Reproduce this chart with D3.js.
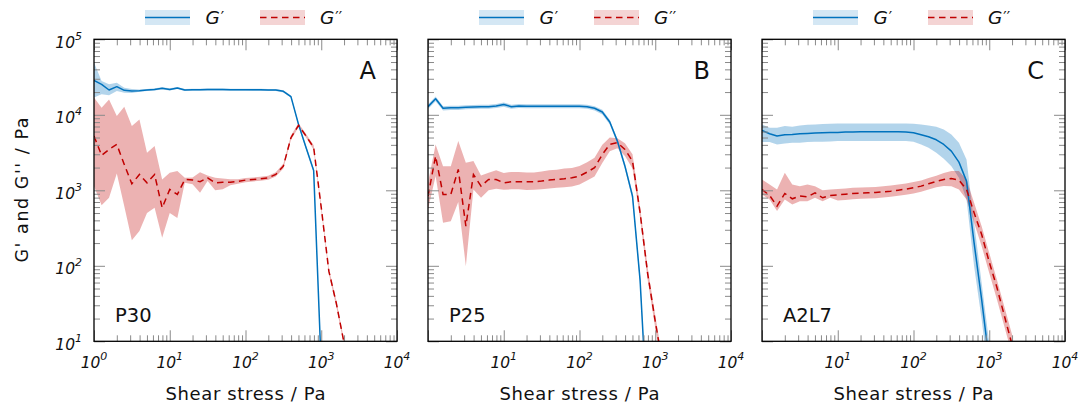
<!DOCTYPE html>
<html><head><meta charset="utf-8">
<script src="https://cdn.jsdelivr.net/npm/d3@7"></script>
<style>body{margin:0;background:#fff}svg{display:block}</style>
</head><body><svg id="c" width="1084" height="410"></svg>
<script>
// Shear stress (Pa), shared by all series
const stress = [1, 1.26, 1.58, 2, 2.51, 3.16, 3.98, 5.01, 6.31, 7.94, 10, 12.6, 15.8, 20, 25.1, 31.6, 39.8, 50.1, 63.1, 79.4, 100, 126, 158, 200, 251, 316, 398, 501, 631, 794, 1000, 1260, 1580, 2000];

const panelLetters = ["A", "B", "C"];
const sampleNames = ["P30", "P25", "A2L7"];
const xTickValues = [1, 10, 100, 1000, 10000];
const yTickValues = [10, 100, 1000, 10000, 100000];
const xTickExponents = ["0", "1", "2", "3", "4"];
const yTickExponents = ["1", "2", "3", "4", "5"];
const xMinorTicks = [2,3,4,5,6,7,8,9,20,30,40,50,60,70,80,90,200,300,400,500,600,700,800,900,2000,3000,4000,5000,6000,7000,8000,9000];
const yMinorTicks = [20,30,40,50,60,70,80,90,200,300,400,500,600,700,800,900,2000,3000,4000,5000,6000,7000,8000,9000,20000,30000,40000,50000,60000,70000,80000,90000];

// Panel A (P30)
const aGp   = [28600, 25300, 21300, 23600, 21100, 20700, 20900, 21300, 21700, 22400, 21700, 22600, 21300, 21500, 21500, 21600, 21600, 21600, 21500, 21500, 21500, 21400, 21400, 21300, 21300, 20500, 17400, 7470, 3660, 1830, 4.5];
const aGpHi = [49100, 28000, 25300, 26600, 22800, 21900, 21600, 22000, 22400, 23100, 22400, 23300, 22000, 22200, 22200, 22300, 22300, 22300, 22200, 22200, 22200, 22100, 22100, 22000, 22000, 21200, 18000, 7900, 3900, 1950, 5.0];
const aGpLo = [16900, 18700, 18100, 20700, 19600, 19400, 20200, 20600, 21000, 21700, 21000, 21900, 20600, 20800, 20800, 20900, 20900, 20900, 20800, 20800, 20800, 20700, 20700, 20600, 20600, 19800, 16800, 7050, 3450, 1720, 4.0];
const aGpp   = [5230, 2900, 3480, 4050, 2200, 1220, 1620, 1256, 1620, 586, 1025, 880, 1390, 1370, 1300, 1466, 1256, 1282, 1282, 1310, 1365, 1390, 1420, 1465, 1620, 2090, 4970, 7250, 5230, 3700, 590, 85, 32, 9.5];
const aGppHi = [16900, 12400, 16000, 9620, 12800, 7100, 8690, 3140, 3850, 1390, 1710, 1800, 1470, 1480, 1740, 1575, 1470, 1430, 1400, 1400, 1450, 1480, 1510, 1560, 1730, 2250, 5300, 7700, 5550, 3950, 640, 92, 35, 10.3];
const aGppLo = [1135, 635, 795, 1670, 617, 218, 288, 500, 586, 235, 500, 431, 1256, 1200, 927, 1325, 1000, 1030, 1170, 1220, 1280, 1310, 1340, 1380, 1520, 1950, 4650, 6850, 4950, 3450, 540, 78, 29, 8.8];

// Panel B (P25)
const bGp   = [12800, 16300, 12200, 12400, 12400, 12600, 12700, 12800, 12800, 13100, 13700, 12800, 13100, 13000, 13000, 13000, 13000, 13000, 13000, 13000, 13000, 12800, 12200, 10900, 8020, 4490, 2090, 838, 64, 0.9];
const bGpHi = [13700, 17500, 13000, 13200, 13200, 13400, 13500, 13600, 13600, 13900, 14600, 13600, 13900, 13800, 13800, 13800, 13800, 13800, 13800, 13800, 13800, 13600, 13000, 11700, 8600, 4850, 2300, 930, 75, 1.0];
const bGpLo = [11900, 15100, 11400, 11600, 11600, 11800, 11900, 12000, 12000, 12300, 12800, 12000, 12300, 12200, 12200, 12200, 12200, 12200, 12200, 12200, 12200, 12000, 11400, 10100, 7450, 4150, 1900, 750, 55, 0.8];
const bGpp   = [838, 2840, 881, 881, 1890, 335, 1620, 1135, 1392, 1392, 1257, 1296, 1296, 1296, 1296, 1324, 1365, 1392, 1422, 1466, 1543, 1743, 1988, 2985, 4055, 4270, 3480, 2440, 504, 79, 18.4, 4.7];
const bGppHi = [1257, 4055, 2090, 2090, 4490, 2320, 2440, 1575, 1706, 1850, 1700, 1750, 1750, 1720, 1720, 1780, 1840, 1870, 1950, 1970, 2100, 2350, 2700, 4000, 5000, 4900, 4200, 3000, 600, 95, 22, 5.5];
const bGppLo = [557, 1543, 371, 390, 700, 99, 1026, 796, 1005, 1050, 1020, 1030, 1030, 1010, 1020, 1030, 1060, 1080, 1100, 1120, 1190, 1350, 1520, 2300, 3300, 3600, 2850, 1950, 420, 65, 15, 4];

// Panel C (A2L7)
const cGp   = [6210, 5610, 5230, 5440, 5500, 5610, 5670, 5730, 5790, 5850, 5850, 5910, 5910, 5970, 5970, 5970, 5970, 5970, 5970, 5910, 5790, 5440, 5120, 4670, 4050, 3300, 2360, 1323, 201, 35.6, 5.4];
const cGpHi = [7460, 6740, 6740, 7100, 6950, 7240, 7390, 7460, 7540, 7620, 7690, 7690, 7690, 7690, 7690, 7690, 7690, 7690, 7690, 7690, 7620, 7460, 7240, 6950, 6410, 5500, 4260, 2560, 371, 59, 9.5];
const cGpLo = [4350, 4350, 4050, 4180, 4260, 4260, 4350, 4400, 4400, 4440, 4490, 4490, 4490, 4490, 4490, 4490, 4490, 4490, 4490, 4490, 4400, 4050, 3660, 3140, 2620, 2090, 1465, 755, 99, 19.4, 2.8];
const cGpp   = [1026, 855, 617, 908, 771, 838, 821, 927, 796, 855, 871, 889, 908, 917, 927, 936, 955, 975, 1005, 1037, 1080, 1135, 1220, 1310, 1392, 1437, 1365, 1026, 504, 260, 112, 52, 22, 9.0];
const cGppHi = [1392, 1194, 1026, 1706, 1194, 1135, 1194, 1135, 1005, 1026, 1040, 1060, 1080, 1090, 1100, 1110, 1135, 1160, 1195, 1235, 1285, 1350, 1450, 1560, 1700, 1795, 1795, 1392, 683, 335, 148, 66, 29, 12.3];
const cGppLo = [881, 755, 530, 755, 649, 718, 718, 794, 718, 794, 730, 745, 760, 770, 780, 785, 800, 820, 845, 870, 905, 955, 1025, 1100, 1140, 1135, 1026, 755, 371, 182, 80, 36, 15.8, 6.65];

const legendBase = ["G", "G"];
const legendPrimes = ["\u2032", "\u2032\u2032"];

const BLUE = "rgb(0,114,189)", RED = "rgb(192,0,0)";
const FONT = "DejaVu Sans, sans-serif";
const W = 303, H = 302, TOP = 39.3;
const panelLefts = [94, 428, 762];

const panels = [
  {gp: aGp, gpLo: aGpLo, gpHi: aGpHi, gpp: aGpp, gppLo: aGppLo, gppHi: aGppHi},
  {gp: bGp, gpLo: bGpLo, gpHi: bGpHi, gpp: bGpp, gppLo: bGppLo, gppHi: bGppHi},
  {gp: cGp, gpLo: cGpLo, gpHi: cGpHi, gpp: cGpp, gppLo: cGppLo, gppHi: cGppHi}
];

const svg = d3.select("#c");

panels.forEach((p, pi) => {
  const left = panelLefts[pi];
  const g = svg.append("g").attr("transform", `translate(${left},${TOP})`);
  const x = d3.scaleLog().domain([1, 1e4]).range([0, W]);
  const y = d3.scaleLog().domain([10, 1e5]).range([H, 0]);

  const cid = "clip" + pi;
  g.append("clipPath").attr("id", cid).append("rect").attr("width", W).attr("height", H);
  const plot = g.append("g").attr("clip-path", `url(#${cid})`);

  const mk = (v, lo, hi) => v.map((d, i) => ({s: stress[i], v: d, lo: lo[i], hi: hi[i]}));
  const d1 = mk(p.gp, p.gpLo, p.gpHi);
  const d2 = mk(p.gpp, p.gppLo, p.gppHi);
  const area = d3.area().x(d => x(d.s)).y0(d => y(d.lo)).y1(d => y(d.hi));
  const line = d3.line().x(d => x(d.s)).y(d => y(d.v));

  plot.append("path").datum(d1).attr("d", area).attr("fill", BLUE).attr("fill-opacity", 0.3);
  plot.append("path").datum(d2).attr("d", area).attr("fill", RED).attr("fill-opacity", 0.3);
  plot.append("path").datum(d1).attr("d", line).attr("fill", "none")
      .attr("stroke", BLUE).attr("stroke-width", 1.5).attr("stroke-linejoin", "round");
  plot.append("path").datum(d2).attr("d", line).attr("fill", "none")
      .attr("stroke", RED).attr("stroke-width", 1.5).attr("stroke-dasharray", "6.5,4.5");

  // ticks (inside, all four sides)
  const axisDefs = [
    [d3.axisBottom, x, `translate(0,${H})`, xMinorTicks, xTickValues],
    [d3.axisTop, x, `translate(0,0)`, xMinorTicks, xTickValues],
    [d3.axisLeft, y, `translate(0,0)`, yMinorTicks, yTickValues],
    [d3.axisRight, y, `translate(${W},0)`, yMinorTicks, yTickValues]
  ];
  axisDefs.forEach(([fn, sc, tr, minors, majors]) => {
    const gm = g.append("g").attr("transform", tr)
      .call(fn(sc).tickValues(minors).tickSize(-6).tickFormat(""));
    const gM = g.append("g").attr("transform", tr)
      .call(fn(sc).tickValues(majors).tickSize(-11).tickFormat(""));
    [gm, gM].forEach(a => {
      a.select(".domain").remove();
      a.selectAll(".tick line").attr("stroke", "#8a8a8a").attr("stroke-width", 1);
    });
  });

  g.append("rect").attr("width", W).attr("height", H).attr("fill", "none")
    .attr("stroke", "#000").attr("stroke-width", 1.3);

  // x tick labels
  xTickValues.forEach((v, i) => {
    if (i === 0 && pi !== 0) return;
    const t = g.append("text").attr("x", x(v)).attr("y", H + 27)
      .attr("text-anchor", "middle").attr("font-family", FONT)
      .attr("font-style", "italic").attr("font-size", 15.5).attr("fill", "#111");
    t.append("tspan").text("10");
    t.append("tspan").attr("dy", -8).attr("font-size", 11).text(xTickExponents[i]);
  });
  // y tick labels (first panel only)
  if (pi === 0) {
    yTickValues.forEach((v, i) => {
      const t = g.append("text").attr("x", -12).attr("y", y(v) + 8.5)
        .attr("text-anchor", "end").attr("font-family", FONT)
        .attr("font-style", "italic").attr("font-size", 15.5).attr("fill", "#111");
      t.append("tspan").text("10");
      t.append("tspan").attr("dy", -8).attr("font-size", 11).text(yTickExponents[i]);
    });
    svg.append("text").attr("transform", `translate(28,190) rotate(-90)`)
      .attr("text-anchor", "middle").attr("font-family", FONT).attr("font-size", 17.5)
      .attr("textLength", 145).attr("lengthAdjust", "spacing")
      .attr("fill", "#111").text("G' and G'' / Pa");
  }

  // x axis title
  g.append("text").attr("x", W / 2).attr("y", 400.5 - TOP).attr("text-anchor", "middle")
    .attr("font-family", FONT).attr("font-size", 18).attr("fill", "#111")
    .attr("textLength", 160).attr("lengthAdjust", "spacing")
    .text("Shear stress / Pa");

  // panel letter & sample name
  g.append("text").attr("x", W - 21).attr("y", 79 - TOP).attr("text-anchor", "end")
    .attr("font-family", FONT).attr("font-size", 24).attr("fill", "#111").text(panelLetters[pi]);
  g.append("text").attr("x", 21).attr("y", 322 - TOP)
    .attr("font-family", FONT).attr("font-size", 19.5).attr("fill", "#111").text(sampleNames[pi]);

  // legend
  const cx = left + W / 2;
  const leg = svg.append("g");
  [[BLUE, null, -100.5, -40], [RED, "6.5,4.5", 14.5, 74.5]].forEach(([col, dash, rx, tx], li) => {
    leg.append("rect").attr("x", cx + rx).attr("y", 10).attr("width", 45).attr("height", 15)
      .attr("fill", col).attr("fill-opacity", 0.17);
    leg.append("line").attr("x1", cx + rx).attr("x2", cx + rx + 45).attr("y1", 17.5).attr("y2", 17.5)
      .attr("stroke", col).attr("stroke-width", 1.5).attr("stroke-dasharray", dash);
    const t = leg.append("text").attr("x", cx + tx).attr("y", 24).attr("font-family", FONT)
      .attr("font-style", "italic").attr("font-size", 18.5).attr("fill", "#111");
    t.append("tspan").text(legendBase[li]);
    t.append("tspan").attr("dx", 1).attr("dy", -1).attr("font-style", "normal").attr("font-size", 15).text(legendPrimes[li]);
  });
});
</script>
</body></html>
